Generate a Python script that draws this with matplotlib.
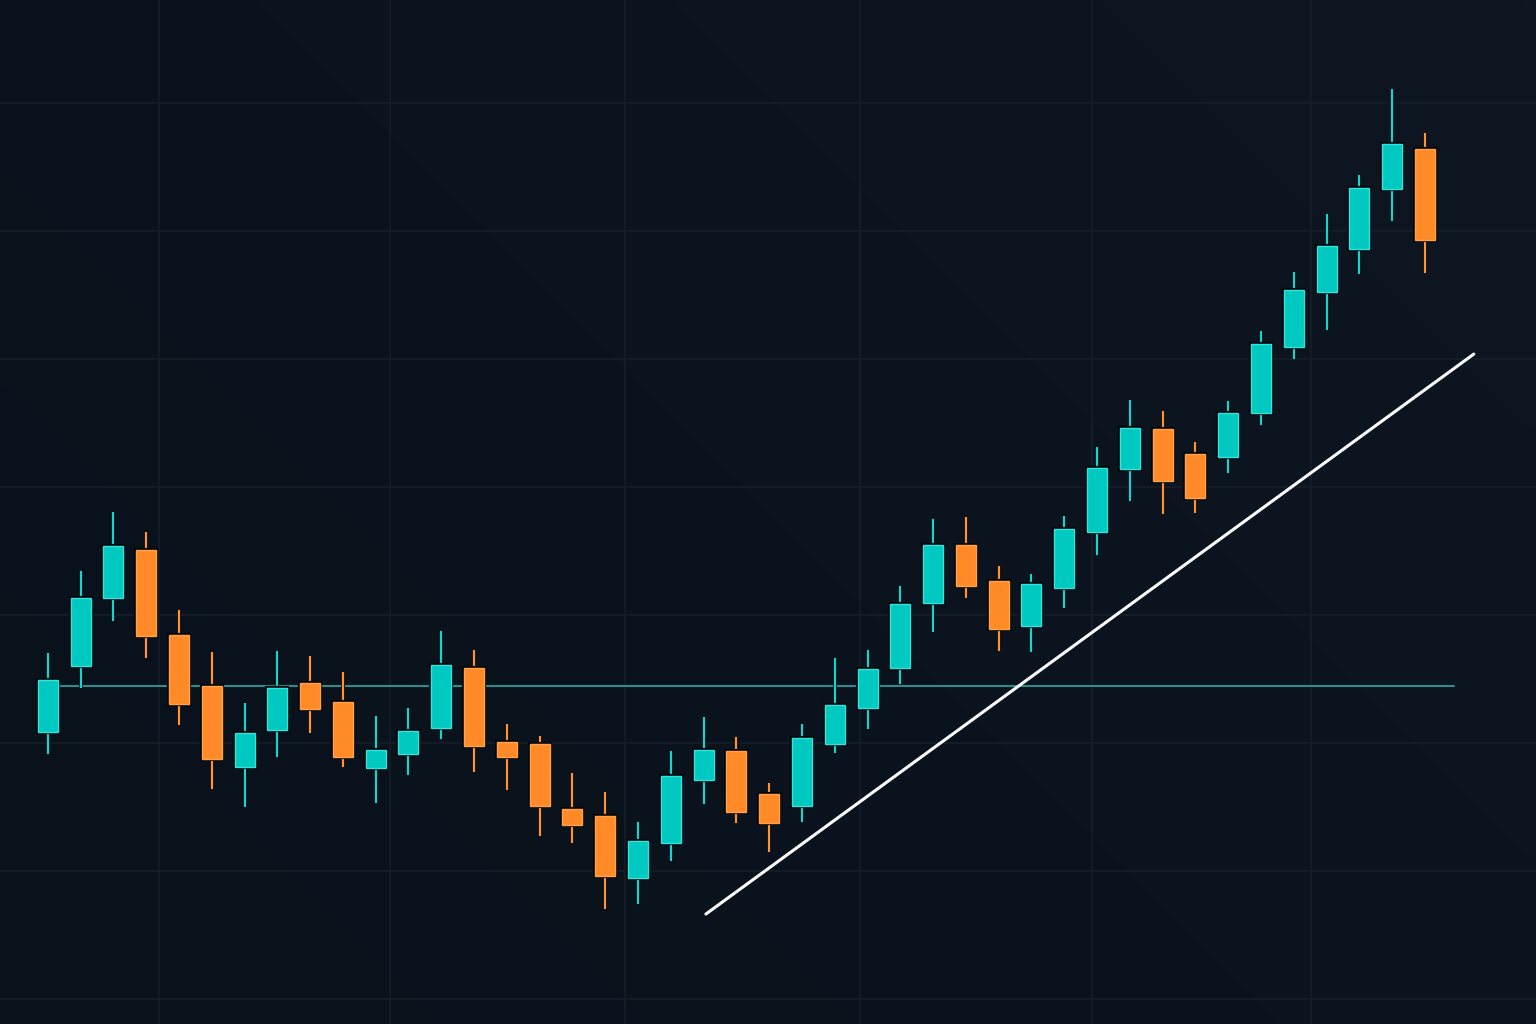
import matplotlib
matplotlib.use("Agg")
import matplotlib.pyplot as plt
from matplotlib.patches import Rectangle
from matplotlib.colors import LinearSegmentedColormap
import matplotlib.patheffects as pe
import numpy as np

# OHLC values (price units)
opens = [120.86, 126.02, 131.33, 135.08, 128.44, 124.45, 118.13, 121.02, 124.69, 123.20,
         118.05, 119.14, 121.17, 125.86, 120.08, 119.92, 114.84, 114.30, 109.45, 112.19,
         117.11, 119.38, 116.02, 115.08, 119.92, 122.73, 125.86, 130.94, 135.47, 132.66,
         129.14, 132.11, 136.48, 141.41, 144.53, 142.58, 142.34, 145.78, 150.94, 155.23,
         158.59, 163.28, 166.41]
highs = [127.03, 133.44, 138.05, 136.48, 130.39, 127.11, 123.13, 127.19, 126.80, 125.55,
         122.11, 122.73, 128.75, 127.27, 121.48, 120.55, 117.66, 116.17, 113.83, 119.38,
         122.03, 120.47, 116.88, 121.48, 126.64, 127.27, 132.27, 137.50, 137.66, 133.83,
         133.20, 137.73, 143.13, 146.80, 145.94, 143.52, 146.72, 152.19, 156.80, 161.33,
         164.38, 171.09, 167.66]
lows = [119.14, 124.30, 129.53, 126.64, 121.41, 116.41, 115.00, 118.91, 120.78, 118.13,
        115.31, 117.50, 120.31, 117.73, 116.33, 112.73, 112.19, 107.03, 107.42, 110.78,
        115.23, 113.75, 111.48, 113.83, 119.22, 121.09, 124.61, 128.67, 131.33, 127.19,
        127.11, 130.55, 134.69, 138.91, 137.89, 137.97, 141.09, 144.84, 150.00, 152.27,
        156.64, 160.78, 156.72]
closes = [124.92, 131.33, 135.39, 128.36, 123.05, 118.75, 120.78, 124.30, 122.66, 118.91,
          119.45, 120.94, 126.09, 119.77, 118.91, 115.08, 113.59, 109.61, 112.34, 117.42,
          119.45, 114.61, 113.75, 120.39, 122.97, 125.78, 130.86, 135.47, 132.27, 128.91,
          132.42, 136.72, 141.48, 144.61, 140.47, 139.14, 145.78, 151.17, 155.39, 158.83,
          163.36, 166.80, 159.30]

support_level = 124.45
support_span = [0.2, 42.88]
trend_x = [20.07, 43.49]
trend_y = [106.64, 150.39]

y_grid = [100, 110, 120, 130, 140, 150, 160, 170]
x_grid = [3.39, 10.44, 17.60, 24.77, 31.84, 38.52]

BG = "#0a121d"
GRID = "#141d28"
UP = "#00c9c1"
UP_EDGE = "#35e3da"
DOWN = "#ff8a27"
DOWN_EDGE = "#ffa24a"

XLIM = (-1.458, 45.386)
YLIM = (98.05, 178.05)

fig = plt.figure(figsize=(15.36, 10.24), dpi=100, facecolor=BG)
ax = fig.add_axes([0, 0, 1, 1])
ax.set_facecolor(BG)

# subtle background gradient (lighter towards the upper right)
gx, gy = np.meshgrid(np.linspace(0, 1, 200), np.linspace(0, 1, 200))
grad = np.clip(0.6 * gx + 0.4 * gy, 0, 1)
cmap = LinearSegmentedColormap.from_list("bg", ["#09111b", "#0d1621"])
ax.imshow(grad, extent=[XLIM[0], XLIM[1], YLIM[0], YLIM[1]], origin="lower",
          cmap=cmap, aspect="auto", zorder=0, interpolation="bilinear")

for gyv in y_grid:
    ax.axhline(gyv, color=GRID, lw=1.3, zorder=1)
for gxv in x_grid:
    ax.axvline(gxv, color=GRID, lw=1.3, zorder=1)

# support line
ax.plot(support_span, [support_level, support_level], color="#2a9e9c", lw=1.3, zorder=2)

# trend line
ax.plot(trend_x, trend_y, color="white", lw=2.2, zorder=2, solid_capstyle="round")

width = 0.61
shadow = [pe.Stroke(linewidth=3.0, foreground="#04070c"), pe.Normal()]
for i, (o, h, l, c) in enumerate(zip(opens, highs, lows, closes)):
    up = c >= o
    col = UP if up else DOWN
    edge = UP_EDGE if up else DOWN_EDGE
    wick_col = "#14d6d0" if up else "#ff9433"
    ax.plot([i, i], [l, h], color=wick_col, lw=1.6, zorder=3,
            solid_capstyle="butt",
            path_effects=[pe.Stroke(linewidth=2.8, foreground="#05080d"), pe.Normal()])
    lo, hi = min(o, c), max(o, c)
    r = Rectangle((i - width / 2, lo), width, hi - lo, facecolor=col,
                  edgecolor=edge, lw=1.0, zorder=4)
    r.set_path_effects(shadow)
    ax.add_patch(r)

ax.set_xlim(*XLIM)
ax.set_ylim(*YLIM)
ax.axis("off")

fig.savefig("out.png", dpi=100, facecolor=BG)
